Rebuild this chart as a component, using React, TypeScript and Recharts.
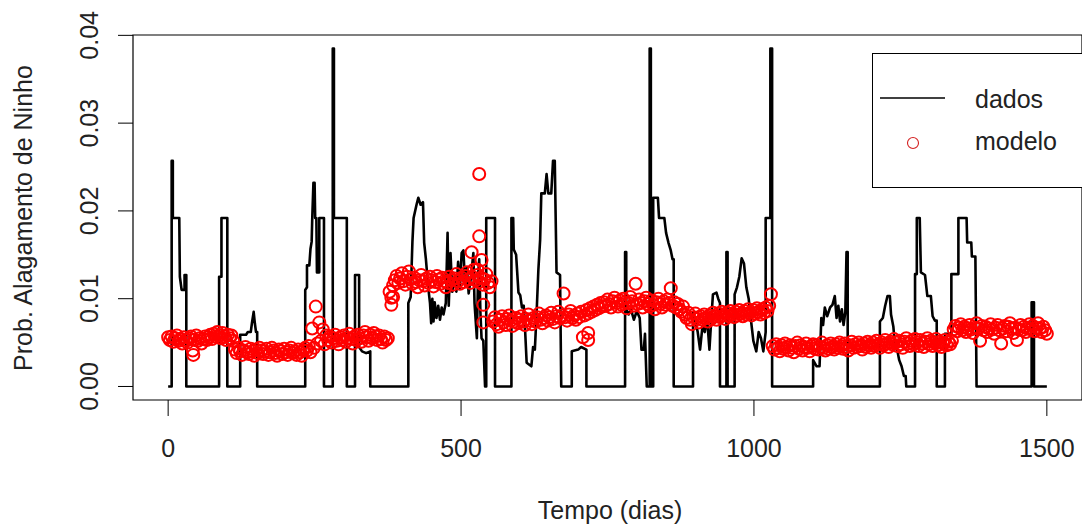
import { ComposedChart, Scatter, XAxis, YAxis, ReferenceArea, Legend } from 'recharts';

const FONT = '"Liberation Sans", Arial, Helvetica, sans-serif';

const dadosPontos: [number, number][] = [
    [0, 0], [6, 0], [6, 0.0257], [8, 0.0257], [8, 0.0192], [19, 0.0192], [20, 0.0125], [23, 0.011], [28, 0.011], [28, 0.0127], [31, 0.0127], [31, 0],
    [87, 0], [87, 0.0125], [91, 0.0125], [91, 0.0192], [101, 0.0192], [101, 0],
    [123, 0], [123, 0.0059], [133, 0.0059], [136, 0.0062], [141, 0.0062], [143, 0.0072], [146, 0.0085], [148, 0.0072], [150, 0.0062], [152, 0.0062], [152, 0],
    [234, 0], [234, 0.011], [237, 0.0113], [237, 0.0138], [241, 0.0138], [243, 0.0157], [245, 0.0165], [246, 0.0192], [248, 0.0232], [250, 0.0232], [251, 0.0192], [253, 0.0192], [254, 0.013], [258, 0.013], [258, 0.0192], [266, 0.0192], [266, 0],
    [281, 0], [281, 0.0385], [283, 0.0385], [283, 0.0192], [305, 0.0192], [305, 0],
    [319, 0], [319, 0.0127], [326, 0.0127], [326, 0.0045], [331, 0.004], [338, 0.0038], [345, 0.004], [345, 0],
    [410, 0], [410, 0.0095], [414, 0.0102], [417, 0.0165], [419, 0.0192], [424, 0.0207], [427, 0.0215], [431, 0.0207], [435, 0.021], [437, 0.0164], [440, 0.0145], [444, 0.0113], [447, 0.0095], [449, 0.0072], [451, 0.01], [453, 0.0074], [455, 0.0096], [458, 0.0078], [461, 0.0092], [464, 0.0076], [467, 0.009], [470, 0.0082], [474, 0.0095], [477, 0.0175], [479, 0.0092], [482, 0.0152], [485, 0.0108], [489, 0.0125], [492, 0.0108], [495, 0.0142], [498, 0.0112], [501, 0.0152], [504, 0.0155], [507, 0.0115], [510, 0.0135], [513, 0.0106], [517, 0.0125], [521, 0.0152], [523, 0.0095], [527, 0.0055], [529, 0.0125], [531, 0.0145], [533, 0.0085], [535, 0.0055], [538, 0.0052], [541, 0], [543, 0], [543, 0.0192], [558, 0.0192], [558, 0],
    [586, 0], [586, 0.0192], [589, 0.0192], [590, 0.0156], [594, 0.015], [598, 0.0107], [601, 0.0104], [604, 0.009], [607, 0.0092], [609, 0.0069], [612, 0.0027], [620, 0.0023], [623, 0.0045], [626, 0.0042], [629, 0.0084], [632, 0.0133], [635, 0.0167], [637, 0.022], [643, 0.022], [646, 0.0242], [649, 0.022], [654, 0.022], [657, 0.0257], [660, 0.0257], [663, 0.013], [669, 0.0127], [671, 0],
    [689, 0], [689, 0.004], [700, 0.0042], [705, 0.0045], [714, 0.0042], [714, 0],
    [780, 0], [780, 0.0153], [782, 0.0153], [782, 0.0088], [786, 0.0082], [790, 0.0088], [795, 0.0076], [800, 0.0086], [805, 0.0078], [808, 0.0042], [812, 0.0042], [814, 0.006], [817, 0],
    [822, 0], [822, 0.0385], [824, 0.0385], [824, 0], [828, 0], [828, 0.0215], [836, 0.0215], [838, 0.0192], [847, 0.0192], [850, 0.0175], [854, 0.0164], [858, 0.0155], [861, 0.0145], [863, 0.0145], [863, 0],
    [896, 0], [896, 0.0084], [900, 0.0075], [904, 0.0062], [908, 0.0042], [912, 0.0068], [916, 0.0062], [920, 0.0078], [924, 0.0042], [927, 0.0075], [930, 0.0105], [936, 0.0107], [939, 0.01], [942, 0.0095], [942, 0],
    [953, 0], [953, 0.0153], [955, 0.0153], [955, 0],
    [967, 0], [967, 0.0105], [971, 0.0113], [975, 0.0125], [979, 0.0146], [983, 0.014], [987, 0.0113], [991, 0.01], [995, 0.0075], [999, 0.0052], [1004, 0.004], [1008, 0.0062], [1012, 0.0055], [1016, 0.004], [1020, 0.0062], [1020, 0.0192], [1028, 0.0192], [1028, 0.0385], [1031, 0.0385], [1031, 0],
    [1101, 0], [1101, 0.003], [1107, 0.0023], [1112, 0.0023], [1115, 0.0078], [1118, 0.007], [1121, 0.009], [1125, 0.008], [1130, 0.009], [1134, 0.0093], [1138, 0.0103], [1141, 0.0078], [1144, 0.0092], [1147, 0.0074], [1150, 0.0088], [1153, 0.007], [1156, 0.0085], [1158, 0.0153], [1160, 0.0153], [1160, 0],
    [1215, 0], [1215, 0.0074], [1220, 0.0078], [1224, 0.0092], [1228, 0.0103], [1232, 0.0103], [1234, 0.0082], [1238, 0.0068], [1241, 0.0045], [1245, 0.004], [1248, 0.003], [1252, 0.0023], [1256, 0.0012], [1259, 0.0012], [1260, 0],
    [1275, 0], [1275, 0.0128], [1278, 0.0128], [1278, 0.0192], [1283, 0.0192], [1285, 0.013], [1292, 0.0127], [1296, 0.0103], [1302, 0.0103], [1305, 0.008], [1309, 0.0075], [1312, 0.0075], [1312, 0],
    [1326, 0], [1326, 0.006], [1337, 0.006], [1337, 0.0128], [1349, 0.0128], [1349, 0.0192], [1363, 0.0192], [1364, 0.0164], [1371, 0.0164], [1372, 0.0148], [1378, 0.0148], [1380, 0],
    [1474, 0], [1474, 0.0096], [1478, 0.0096], [1478, 0], [1500, 0],
];

// modelo: um valor a cada 3 dias, de 0 a 1500
const modeloPasso = 3;
const modeloValores = [
    // 0 - 111
    0.0056, 0.0053, 0.0057, 0.0051, 0.0055, 0.0058, 0.0052, 0.0054, 0.0049, 0.0056, 0.0053, 0.0050, 0.0055, 0.0057, 0.0041, 0.0053, 0.0058, 0.0052, 0.0055, 0.0049,
    0.0054, 0.0057, 0.0053, 0.0056, 0.0059, 0.0054, 0.0060, 0.0057, 0.0062, 0.0058, 0.0055, 0.0061, 0.0057, 0.0053, 0.0059, 0.0055, 0.0058, 0.0052,
    // 114 - 234
    0.0042, 0.0038, 0.0044, 0.0040, 0.0036, 0.0041, 0.0045, 0.0039, 0.0037, 0.0043, 0.0040, 0.0035, 0.0042, 0.0038, 0.0044, 0.0041, 0.0037, 0.0040, 0.0043, 0.0036,
    0.0039, 0.0044, 0.0041, 0.0038, 0.0035, 0.0042, 0.0040, 0.0037, 0.0043, 0.0039, 0.0036, 0.0041, 0.0044, 0.0038, 0.0040, 0.0036, 0.0042, 0.0039, 0.0035, 0.0041, 0.0044,
    // 237 - 270
    0.0041, 0.0046, 0.0039, 0.0066, 0.0044, 0.0091, 0.0049, 0.0073, 0.0052, 0.0065, 0.0048, 0.0058,
    // 273 - 375
    0.0053, 0.0057, 0.0050, 0.0055, 0.0059, 0.0052, 0.0048, 0.0056, 0.0053, 0.0058, 0.0051, 0.0055, 0.0060, 0.0054, 0.0049, 0.0057, 0.0053, 0.0059, 0.0055, 0.0051,
    0.0058, 0.0062, 0.0056, 0.0052, 0.0059, 0.0055, 0.0061, 0.0057, 0.0053, 0.0058, 0.0054, 0.0050, 0.0057, 0.0053, 0.0055,
    // 378 - 552
    0.0108, 0.0101, 0.0115, 0.0121, 0.0126, 0.0118, 0.0123, 0.0129, 0.0120, 0.0116, 0.0125, 0.0131, 0.0122, 0.0117, 0.0124, 0.0119, 0.0113, 0.0121, 0.0127, 0.0120,
    0.0115, 0.0123, 0.0118, 0.0125, 0.0121, 0.0114, 0.0119, 0.0126, 0.0122, 0.0117, 0.0124, 0.0120, 0.0113, 0.0118, 0.0125, 0.0121, 0.0116, 0.0123, 0.0128, 0.0120,
    0.0117, 0.0124, 0.0119, 0.0126, 0.0130, 0.0122, 0.0118, 0.0125, 0.0133, 0.0121, 0.0127, 0.0119, 0.0124, 0.0116, 0.0122, 0.0128, 0.0118, 0.0113, 0.0120,
    // 555 - 741
    0.0074, 0.0079, 0.0071, 0.0068, 0.0076, 0.0080, 0.0073, 0.0070, 0.0077, 0.0081, 0.0075, 0.0069, 0.0074, 0.0078, 0.0072, 0.0076, 0.0080, 0.0074, 0.0070, 0.0077,
    0.0082, 0.0075, 0.0071, 0.0078, 0.0074, 0.0079, 0.0083, 0.0076, 0.0072, 0.0078, 0.0081, 0.0075, 0.0079, 0.0084, 0.0077, 0.0073, 0.0080, 0.0085, 0.0078, 0.0081,
    0.0106, 0.0079, 0.0075, 0.0082, 0.0086, 0.0078, 0.0081, 0.0076, 0.0083, 0.0079, 0.0085, 0.0056, 0.0081, 0.0087, 0.0083, 0.0089, 0.0085, 0.0091, 0.0087, 0.0093,
    0.0089, 0.0095, 0.0091,
    // 744 - 870
    0.0096, 0.0092, 0.0099, 0.0094, 0.0090, 0.0097, 0.0101, 0.0095, 0.0091, 0.0098, 0.0093, 0.0100, 0.0096, 0.0089, 0.0095, 0.0102, 0.0097, 0.0092, 0.0117, 0.0094,
    0.0099, 0.0095, 0.0090, 0.0097, 0.0101, 0.0094, 0.0091, 0.0098, 0.0093, 0.0088, 0.0096, 0.0100, 0.0094, 0.0090, 0.0097, 0.0093, 0.0099, 0.0095, 0.0112, 0.0092,
    0.0096, 0.0090, 0.0094,
    // 873 - 1029
    0.0088, 0.0085, 0.0091, 0.0082, 0.0078, 0.0084, 0.0076, 0.0071, 0.0079, 0.0083, 0.0077, 0.0073, 0.0080, 0.0076, 0.0082, 0.0078, 0.0074, 0.0081, 0.0077, 0.0084,
    0.0080, 0.0076, 0.0083, 0.0079, 0.0085, 0.0081, 0.0077, 0.0084, 0.0080, 0.0086, 0.0082, 0.0079, 0.0085, 0.0081, 0.0087, 0.0083, 0.0080, 0.0086, 0.0082, 0.0088,
    0.0084, 0.0081, 0.0087, 0.0083, 0.0089, 0.0085, 0.0082, 0.0088, 0.0084, 0.0090, 0.0086, 0.0092, 0.0105,
    // 1032 - 1338
    0.0046, 0.0042, 0.0048, 0.0044, 0.0040, 0.0047, 0.0043, 0.0049, 0.0045, 0.0041, 0.0047, 0.0044, 0.0039, 0.0046, 0.0050, 0.0043, 0.0047, 0.0041, 0.0045, 0.0049,
    0.0044, 0.0040, 0.0046, 0.0048, 0.0043, 0.0047, 0.0042, 0.0045, 0.0050, 0.0044, 0.0041, 0.0047, 0.0043, 0.0049, 0.0045, 0.0042, 0.0048, 0.0044, 0.0050, 0.0046,
    0.0043, 0.0049, 0.0045, 0.0041, 0.0047, 0.0051, 0.0044, 0.0048, 0.0045, 0.0050, 0.0046, 0.0042, 0.0049, 0.0045, 0.0051, 0.0047, 0.0044, 0.0050, 0.0046, 0.0052,
    0.0048, 0.0044, 0.0050, 0.0047, 0.0053, 0.0049, 0.0045, 0.0051, 0.0048, 0.0054, 0.0050, 0.0046, 0.0052, 0.0048, 0.0044, 0.0051, 0.0055, 0.0049, 0.0046, 0.0052,
    0.0048, 0.0054, 0.0050, 0.0046, 0.0053, 0.0049, 0.0045, 0.0051, 0.0055, 0.0048, 0.0052, 0.0046, 0.0050, 0.0054, 0.0047, 0.0051, 0.0045, 0.0049, 0.0053, 0.0047,
    0.0051, 0.0048, 0.0052,
    // 1341 - 1500
    0.0065, 0.0069, 0.0063, 0.0067, 0.0071, 0.0064, 0.0068, 0.0062, 0.0066, 0.0070, 0.0065, 0.0061, 0.0067, 0.0072, 0.0066, 0.0052, 0.0069, 0.0064, 0.0068, 0.0062,
    0.0066, 0.0071, 0.0065, 0.0060, 0.0067, 0.0070, 0.0064, 0.0049, 0.0066, 0.0069, 0.0063, 0.0068, 0.0072, 0.0066, 0.0061, 0.0067, 0.0053, 0.0065, 0.0070, 0.0064,
    0.0068, 0.0062, 0.0066, 0.0071, 0.0065, 0.0069, 0.0063, 0.0067, 0.0072, 0.0066, 0.0062, 0.0068, 0.0064, 0.0060,
];

// pontos do modelo fora da faixa principal
const modeloExtras: [number, number][] = [
    [43, 0.0036], [381, 0.0093], [384, 0.0102], [518, 0.0153], [528, 0.0133], [531, 0.0242], [531, 0.0171],
    [535, 0.0144], [538, 0.0093], [538, 0.0073], [717, 0.0053], [717, 0.0061],
];

const xTicks = [0, 500, 1000, 1500];
const yTicks = [0, 0.01, 0.02, 0.03, 0.04];

const dados = dadosPontos.map(([day, value]) => ({ day, value }));
const modelo = [
    ...modeloValores.map((value, i) => ({ day: i * modeloPasso, value })),
    ...modeloExtras.map(([day, value]) => ({ day, value })),
];

const X_DOMAIN: [number, number] = [-60, 1560];
const Y_DOMAIN: [number, number] = [-0.00154, 0.04004];

const XTick = ({ x, payload }: any) => (
    <text x={x} y={457} textAnchor="middle" fontSize={25} fill="#222" fontFamily={FONT}>
        {payload.value}
    </text>
);

const YTick = ({ y, payload }: any) => (
    <text x={98} y={y} transform={`rotate(-90, 98, ${y})`} textAnchor="middle" fontSize={25} fill="#222" fontFamily={FONT}>
        {Number(payload.value).toFixed(2)}
    </text>
);

const NoDot = () => <g />;

const RedCircle = (p: any) => (
    <circle cx={p.cx} cy={p.cy} r={6} fill="none" stroke="#ff0000" strokeWidth={2} />
);

const LegendBox = () => (
    <svg width={220} height={136} style={{ display: 'block' }}>
        <rect x={0.5} y={0.5} width={230} height={134} fill="#fff" stroke="#000" strokeWidth={1} />
        <line x1={8} y1={45} x2={73} y2={45} stroke="#000" strokeWidth={1.3} />
        <text x={103} y={55} fontSize={25} fill="#222" fontFamily={FONT}>dados</text>
        <circle cx={41} cy={90} r={5.5} fill="none" stroke="#d42020" strokeWidth={1.1} />
        <text x={103} y={97} fontSize={25} fill="#222" fontFamily={FONT}>modelo</text>
    </svg>
);

export default function App() {
    return (
        <div style={{ position: 'absolute', left: 0, top: 0, width: 1082, height: 527, background: '#fff' }}>
            <ComposedChart width={1082} height={527} margin={{ top: 35, right: 0, bottom: 0, left: 0 }}>
                <XAxis
                    type="number"
                    dataKey="day"
                    domain={X_DOMAIN}
                    ticks={xTicks}
                    allowDataOverflow
                    height={127}
                    axisLine={false}
                    tickLine={{ stroke: '#000', strokeWidth: 1 }}
                    tickSize={16}
                    tick={<XTick />}
                />
                <YAxis
                    type="number"
                    dataKey="value"
                    domain={Y_DOMAIN}
                    ticks={yTicks}
                    allowDataOverflow
                    width={133}
                    axisLine={false}
                    tickLine={{ stroke: '#000', strokeWidth: 1 }}
                    tickSize={15}
                    tick={<YTick />}
                />
                <ReferenceArea
                    x1={X_DOMAIN[0]}
                    x2={X_DOMAIN[1]}
                    y1={Y_DOMAIN[0]}
                    y2={Y_DOMAIN[1]}
                    fill="none"
                    stroke="#000"
                    strokeWidth={1.2}
                    ifOverflow="visible"
                />
                {/* dados como linha (desenhada antes, fica por baixo dos círculos) */}
                <Scatter
                    data={dados}
                    dataKey="value"
                    line={{ stroke: '#000', strokeWidth: 2.6, strokeLinejoin: 'round' }}
                    shape={NoDot}
                    isAnimationActive={false}
                />
                <Scatter data={modelo} dataKey="value" shape={RedCircle} isAnimationActive={false} />
                <Legend
                    layout="horizontal"
                    verticalAlign="middle"
                    align="center"
                    content={<LegendBox />}
                    wrapperStyle={{ position: 'absolute', left: 872, top: 53, width: 220, height: 136 }}
                />
                <text x={610} y={519} textAnchor="middle" fontSize={25} fill="#222" fontFamily={FONT}>
                    Tempo (dias)
                </text>
                <text x={32} y={218} transform="rotate(-90, 32, 218)" textAnchor="middle" fontSize={25} fill="#222" fontFamily={FONT}>
                    Prob. Alagamento de Ninho
                </text>
            </ComposedChart>
        </div>
    );
}
